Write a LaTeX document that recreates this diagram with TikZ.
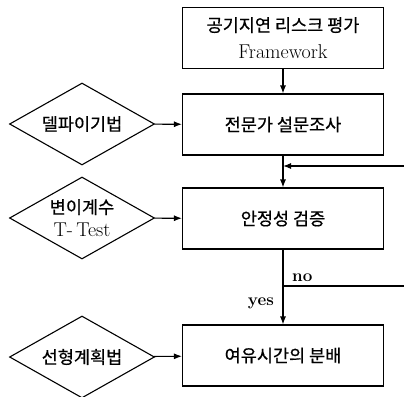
\documentclass[tikz,border=0pt]{standalone}
\usepackage{fontspec}
\newfontfamily\kr[FakeBold=0.6]{Noto Sans CJK KR}
\usetikzlibrary{shapes.geometric,arrows.meta}
\tikzset{
  procbox/.style={draw,line width=1.1pt,minimum width=201pt,minimum height=61pt,inner sep=0pt,align=center},
  decbox/.style={draw,shape=diamond,line width=1.1pt,minimum width=145pt,minimum height=82pt,inner sep=0pt},
  flow/.style={line width=1.1pt,-{Latex[length=8pt,width=6pt]}},
  plain/.style={line width=1.1pt},
  krt/.style={font=\kr\fontsize{17.5}{27}\selectfont},
}
\begin{document}
\begin{tikzpicture}[x=1pt,y=-1pt]
\useasboundingbox (0,0) rectangle (404,396);
\node[procbox,font=\fontsize{20}{27}\selectfont] (b1) at (283,38) {{\kr\fontsize{17.5}{27}\selectfont 공기지연 리스크 평가}\\Framework};
\node[procbox,krt] (b2) at (283,124.5) {전문가 설문조사};
\node[procbox,krt] (b3) at (283,218.5) {안정성 검증};
\node[procbox,krt] (b4) at (283,355.5) {여유시간의 분배};

\node[decbox,label={[krt]center:델파이기법}] (d1) at (82,124) {};
\node[decbox,label={[align=center,inner sep=0pt,font=\fontsize{20}{23}\selectfont]center:{\kr\fontsize{17.5}{23}\selectfont 변이계수}\\T-\,Test}] (d2) at (82,218) {};
\node[decbox,label={[krt]center:선형계획법}] (d3) at (82,357) {};

\coordinate (fbR) at (404,166);
\coordinate (noR) at (404,286);

\draw[flow] (b1) -- (b2);
\draw[flow] (b2) -- (b3);
\draw[flow] (b3) -- (b4);
\draw[flow] (d1) -- (b2);
\draw[flow] (d2) -- (b3);
\draw[flow] (d3) -- (b4);
\draw[flow] (fbR) -- (fbR -| b2.south);
\draw[plain] (b3.south |- noR) -- (noR);

\node[font=\bfseries\fontsize{17}{17}\selectfont,anchor=base west,inner sep=0pt] (nolab) at (292,281) {no};
\node[font=\bfseries\fontsize{17}{17}\selectfont,anchor=base east,inner sep=0pt] (yeslab) at (274,305) {yes};
\end{tikzpicture}
\end{document}
